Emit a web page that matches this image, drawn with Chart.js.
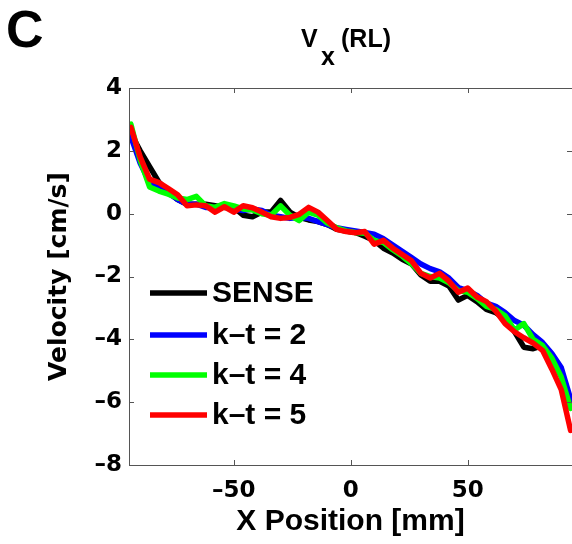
<!DOCTYPE html>
<html lang="en">
<head>
<meta charset="UTF-8">
<title>Vx (RL)</title>
<script src="https://cdn.jsdelivr.net/npm/chart.js"></script>
<style>
  html, body { margin: 0; padding: 0; background: #fff; }
  #wrap { width: 572px; height: 544px; position: relative; }
</style>
</head>
<body>
<div id="wrap"><canvas id="myChart" width="572" height="544"></canvas></div>
<script>
// X position [mm]
const xPos = [-94, -90, -86, -82, -78, -74, -70, -66, -62, -58, -54, -50, -46, -42, -38, -34,
  -30, -26, -22, -18, -14, -10, -6, -2, 2, 6, 10, 14, 18, 22, 26, 30,
  34, 38, 42, 46, 50, 54, 58, 62, 66, 70, 74, 78, 82, 86, 90, 94];

// velocity [cm/s] per reconstruction
const sense = [2.55, 2.0, 1.5, 1.0, 0.7, 0.45, 0.3, 0.3, 0.3, 0.25, 0.2, 0.2, -0.05, -0.1, 0.05, 0.05,
  0.42, 0.05, -0.12, -0.2, -0.25, -0.35, -0.5, -0.55, -0.6, -0.72, -0.85, -1.1, -1.25, -1.45, -1.6, -1.95,
  -2.15, -2.15, -2.3, -2.75, -2.6, -2.8, -3.05, -3.15, -3.35, -3.75, -4.25, -4.3, -4.2, -4.6, -5.1, -6.1];
const kt2 = [2.45, 1.6, 1.0, 0.85, 0.65, 0.45, 0.3, 0.3, 0.2, 0.2, 0.25, 0.15, 0.1, 0.15, 0.1, -0.05,
  -0.1, -0.15, -0.12, -0.15, -0.25, -0.35, -0.45, -0.5, -0.55, -0.6, -0.65, -0.8, -1.0, -1.2, -1.4, -1.6,
  -1.75, -1.85, -2.05, -2.35, -2.45, -2.6, -2.85, -2.95, -3.15, -3.4, -3.55, -3.85, -4.1, -4.45, -4.9, -5.9];
const kt4 = [2.85, 1.7, 0.85, 0.72, 0.62, 0.5, 0.45, 0.55, 0.25, 0.2, 0.32, 0.25, 0.15, 0.12, 0.0, -0.05,
  0.25, -0.05, -0.22, 0.05, -0.05, -0.3, -0.45, -0.55, -0.6, -0.62, -0.85, -0.92, -1.15, -1.35, -1.6, -1.9,
  -2.0, -2.05, -2.2, -2.45, -2.5, -2.7, -2.95, -3.05, -3.25, -3.7, -3.5, -4.0, -4.2, -4.6, -5.2, -6.2];
const kt5 = [2.75, 1.8, 1.1, 0.99, 0.8, 0.6, 0.25, 0.28, 0.25, 0.05, 0.22, 0.05, 0.25, 0.19, 0.05, -0.1,
  -0.15, -0.12, -0.02, 0.2, 0.05, -0.22, -0.5, -0.57, -0.61, -0.57, -0.97, -0.85, -1.1, -1.3, -1.5, -1.9,
  -2.05, -1.9, -2.15, -2.5, -2.37, -2.65, -2.8, -3.1, -3.5, -3.76, -3.95, -4.12, -4.35, -4.95, -5.6, -6.9];

const seriesNames = ['SENSE', 'k\u2013t = 2', 'k\u2013t = 4', 'k\u2013t = 5'];
const seriesColors = ['#000000', '#0000ff', '#00ff00', '#ff0000'];

const xTicks = [-50, 0, 50];
const yTicks = [-8, -6, -4, -2, 0, 2, 4];

const tickFont = { family: 'DejaVu Sans', size: 23, weight: 'bold' };

function fmt(v) {
  return v < 0 ? '\u2013' + Math.abs(v) : String(v);
}

function toPoints(ys) {
  return xPos.map((x, i) => ({ x: x, y: ys[i] }));
}

// box, inward ticks, legend and titles (MATLAB look)
const matlabDecor = {
  id: 'matlabDecor',
  afterDraw(chart) {
    const ctx = chart.ctx;
    const a = chart.chartArea;
    const xs = chart.scales.x, ys = chart.scales.y;
    ctx.save();
    ctx.strokeStyle = '#555';
    ctx.lineWidth = 1;
    ctx.strokeRect(a.left + 0.5, a.top + 0.5, a.right - a.left, a.bottom - a.top);
    ctx.beginPath();
    xTicks.forEach(v => {
      const px = Math.round(xs.getPixelForValue(v)) + 0.5;
      ctx.moveTo(px, a.bottom); ctx.lineTo(px, a.bottom - 5);
      ctx.moveTo(px, a.top); ctx.lineTo(px, a.top + 5);
    });
    yTicks.forEach(v => {
      const py = Math.round(ys.getPixelForValue(v)) + 0.5;
      ctx.moveTo(a.left, py); ctx.lineTo(a.left + 5, py);
      ctx.moveTo(a.right, py); ctx.lineTo(a.right - 5, py);
    });
    ctx.stroke();

    // legend inside the axes
    const rows = [293, 335, 375, 415];
    ctx.font = 'bold 30px "Liberation Sans", Arial, sans-serif';
    ctx.textBaseline = 'middle';
    ctx.textAlign = 'left';
    seriesNames.forEach((name, i) => {
      ctx.strokeStyle = seriesColors[i];
      ctx.lineWidth = 5.5;
      ctx.beginPath();
      ctx.moveTo(150, rows[i]); ctx.lineTo(207, rows[i]);
      ctx.stroke();
      ctx.fillStyle = '#000';
      ctx.fillText(name, 212, rows[i] + 1);
    });

    // panel letter and title
    ctx.textBaseline = 'alphabetic';
    ctx.font = 'bold 52px "Liberation Sans", Arial, sans-serif';
    ctx.fillText('C', 6, 47);
    ctx.font = 'bold 25px "Liberation Sans", Arial, sans-serif';
    ctx.fillText('V', 301, 47);
    ctx.fillText('x', 321, 65);
    ctx.fillText('(RL)', 341, 47);
    ctx.restore();
  }
};

const config = {
  type: 'line',
  data: {
    datasets: [sense, kt2, kt4, kt5].map((ys, i) => ({
      label: seriesNames[i],
      data: toPoints(ys),
      borderColor: seriesColors[i],
      backgroundColor: seriesColors[i],
      borderWidth: 5.5,
      pointRadius: 0,
      tension: 0,
      order: 3 - i, // red drawn last, on top
      borderJoinStyle: 'round',
      borderCapStyle: 'round'
    }))
  },
  options: {
    responsive: false,
    animation: false,
    layout: { padding: { top: 88, right: 0, bottom: 0, left: 0 } },
    plugins: {
      legend: { display: false },
      tooltip: { enabled: false }
    },
    scales: {
      x: {
        type: 'linear',
        min: -94.8,
        max: 94.6,
        grid: { display: false, drawTicks: false },
        border: { display: false },
        afterBuildTicks: s => { s.ticks = xTicks.map(v => ({ value: v })); },
        afterFit: s => { s.height = 79; },
        ticks: { font: tickFont, color: '#000', padding: 12, maxRotation: 0, callback: v => fmt(v) },
        title: {
          display: true,
          text: 'X Position [mm]',
          color: '#000',
          font: { family: 'Liberation Sans', size: 30, weight: 'bold' },
          padding: { top: 0, bottom: 4 }
        }
      },
      y: {
        min: -8,
        max: 4,
        grid: { display: false, drawTicks: false },
        border: { display: false },
        afterBuildTicks: s => { s.ticks = yTicks.map(v => ({ value: v })); },
        afterFit: s => { s.width = 129; },
        ticks: { font: tickFont, color: '#000', padding: 7, callback: v => fmt(v) },
        title: {
          display: true,
          text: 'Velocity [cm/s]',
          color: '#000',
          font: { family: 'DejaVu Sans', size: 25, weight: 'bold' },
          padding: { top: 44, bottom: 0 }
        }
      }
    }
  },
  plugins: [matlabDecor]
};

new Chart(document.getElementById('myChart').getContext('2d'), config);
</script>
</body>
</html>
